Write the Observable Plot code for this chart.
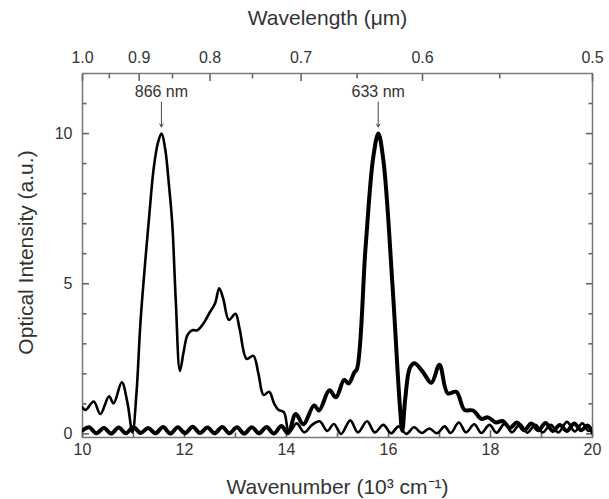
<!DOCTYPE html>
<html><head><meta charset="utf-8">
<script src="https://cdn.jsdelivr.net/npm/d3@7"></script>
<script src="https://cdn.jsdelivr.net/npm/@observablehq/plot@0.6"></script>
<style>body{margin:0;background:#fff}</style>
</head><body><div id="chart"></div>
<script>
// Spectrum peaking at 866 nm (thinner line)
const waveA = [10.00,10.06,10.22,10.35,10.52,10.61,10.77,10.88,10.98,11.06,11.14,11.30,11.40,11.48,11.55,11.62,11.70,11.76,11.83,11.91,11.98,12.06,12.15,12.25,12.38,12.48,12.60,12.68,12.76,12.87,13.00,13.08,13.22,13.35,13.45,13.55,13.66,13.76,13.84,13.95,14.05,14.20,14.35,14.50,14.65,14.80,14.93,15.07,15.25,15.40,15.58,15.73,15.90,16.05,16.20,16.35,16.50,16.65,16.80,16.95,17.10,17.22,17.38,17.52,17.68,17.82,17.98,18.12,18.28,18.42,18.58,18.72,18.88,19.02,19.18,19.33,19.50,19.65,19.80,19.92,20.00];
const intA  = [0.88,0.80,1.08,0.66,1.25,1.02,1.72,1.05,0.05,1.40,3.80,7.10,8.90,9.70,10.00,9.50,8.20,7.00,4.40,2.10,2.70,3.30,3.45,3.45,3.70,4.00,4.35,4.85,4.50,3.80,4.00,3.50,2.50,2.60,2.00,1.30,1.40,1.00,0.80,0.72,0.05,0.35,0.05,0.30,0.42,0.10,0.33,0.00,0.45,0.05,0.42,0.05,0.30,0.02,0.25,0.00,0.22,0.03,0.18,0.02,0.25,0.03,0.38,0.05,0.32,0.03,0.30,0.04,0.35,0.05,0.32,0.04,0.30,0.05,0.30,0.05,0.40,0.08,0.35,0.10,0.20];
// Spectrum peaking at 633 nm (thick line)
const waveB = [10.00,10.13,10.27,10.42,10.56,10.71,10.85,11.00,11.14,11.29,11.43,11.58,11.72,11.87,12.01,12.16,12.30,12.45,12.59,12.74,12.88,13.03,13.17,13.32,13.46,13.61,13.75,13.90,14.03,14.18,14.33,14.54,14.64,14.84,14.97,15.13,15.22,15.33,15.38,15.55,15.70,15.80,15.90,16.08,16.22,16.27,16.33,16.42,16.51,16.68,16.84,17.00,17.16,17.33,17.49,17.66,17.82,17.95,18.11,18.24,18.38,18.52,18.66,18.80,18.94,19.08,19.22,19.36,19.50,19.64,19.78,19.90,20.00];
const intB  = [0.12,0.22,0.02,0.20,0.01,0.21,0.02,0.22,0.03,0.20,0.02,0.23,0.01,0.22,0.02,0.24,0.03,0.21,0.02,0.23,0.02,0.22,0.01,0.22,0.02,0.23,0.01,0.26,0.02,0.66,0.32,0.95,0.78,1.45,1.22,1.80,1.68,2.05,2.15,6.20,9.20,10.00,9.10,4.90,1.00,0.10,1.20,2.20,2.35,2.05,1.70,2.30,1.35,1.40,0.80,0.78,0.50,0.55,0.38,0.43,0.20,0.38,0.12,0.35,0.12,0.36,0.10,0.30,0.10,0.35,0.12,0.28,0.05];

const wavelengthMajor = [1.0,0.9,0.8,0.7,0.6,0.5];
const wavelengthMinor = [0.95,0.85,0.75,0.65,0.55];
const wavenumberMajor = [10,12,14,16,18,20];
const wavenumberMinor = [11,13,15,17,19];
const intensityMajor = [0,5,10];
const intensityMinor = [1,2,3,4,6,7,8,9,11];

const peakNm = [866,633];
const peakLabels = ["866 nm","633 nm"];
const labelLevel = [11.38,11.38];
const arrowTop = [11.05,11.05];
const arrowTip = [10.22,10.22];

const seriesA = waveA.map((w,i)=>({w, v:intA[i]}));
const seriesB = waveB.map((w,i)=>({w, v:intB[i]}));
const peaks = peakNm.map((nm,i)=>({x:1e4/nm, label:peakLabels[i], ly:labelLevel[i], y1:arrowTop[i], y2:arrowTip[i]}));
const toWn = l => 10/l;

const W = 609, H = 499, mL = 82, mR = 17, mT = 73, mB = 62;
const axisColor = "#666";
const textColor = "#333";
const MAJ = 7, MIN = 4.5;
const tk = {stroke: axisColor, strokeWidth: 1.6, text: null, label: null};
const titleStyle = {fontSize: 21, fill: textColor, letterSpacing: "2.2px", textAnchor: "middle", lineAnchor: "middle"};

const chart = Plot.plot({
  width: W, height: H,
  marginLeft: mL, marginRight: mR, marginTop: mT, marginBottom: mB,
  style: {fontFamily: "'Liberation Sans', Arial, sans-serif", fontSize: "16px", color: textColor, background: "#fff"},
  x: {domain: [10,20]},
  y: {domain: [-0.12,12]},
  marks: [
    Plot.frame({stroke: "#777", strokeWidth: 1.5}),
    // inward ticks (axis ticks shifted back inside the frame)
    Plot.axisX(wavenumberMajor, {anchor:"bottom", tickSize:MAJ, dy:-MAJ, ...tk}),
    Plot.axisX(wavenumberMinor, {anchor:"bottom", tickSize:MIN, dy:-MIN, ...tk}),
    Plot.axisX(wavelengthMajor.map(toWn), {anchor:"top", tickSize:MAJ, dy:MAJ, ...tk}),
    Plot.axisX(wavelengthMinor.map(toWn), {anchor:"top", tickSize:MIN, dy:MIN, ...tk}),
    Plot.axisY(intensityMajor, {anchor:"left", tickSize:MAJ, dx:MAJ, ...tk}),
    Plot.axisY(intensityMinor, {anchor:"left", tickSize:MIN, dx:MIN, ...tk}),
    Plot.axisY(intensityMajor, {anchor:"right", tickSize:MAJ, dx:-MAJ, ...tk}),
    Plot.axisY(intensityMinor, {anchor:"right", tickSize:MIN, dx:-MIN, ...tk}),
    // tick labels
    Plot.axisX(wavenumberMajor, {anchor:"bottom", tickSize:0, tickPadding:6, fill:textColor, label:null}),
    Plot.axisX(wavelengthMajor.map(toWn), {anchor:"top", tickSize:0, tickPadding:11, fill:textColor, label:null, tickFormat: d => (10/d).toFixed(1)}),
    Plot.axisY(intensityMajor, {anchor:"left", tickSize:0, tickPadding:10, fill:textColor, label:null}),
    // axis titles
    Plot.text(["Wavelength (μm)"], {frameAnchor:"top", dy:-55, dx:-10, ...titleStyle}),
    Plot.text(["Wavenumber (10³ cm⁻¹)"], {frameAnchor:"bottom", dy:50, dx:0, ...titleStyle}),
    Plot.text(["Optical Intensity (a.u.)"], {frameAnchor:"left", dx:-56, dy:-3, rotate:-90, ...titleStyle}),
    // spectra
    Plot.line(seriesB, {x:"w", y:"v", curve:"catmull-rom", stroke:"#000", strokeWidth:4, clip:true}),
    Plot.line(seriesA, {x:"w", y:"v", curve:"catmull-rom", stroke:"#000", strokeWidth:2.6, clip:true}),
    // annotations
    Plot.arrow(peaks, {x1:"x", x2:"x", y1:"y1", y2:"y2", stroke:"#444", strokeWidth:1, headLength:5}),
    Plot.text(peaks, {x:"x", y:"ly", text:"label", fontSize:16, fill:textColor})
  ]
});
document.getElementById("chart").appendChild(chart);
</script>
</body></html>
